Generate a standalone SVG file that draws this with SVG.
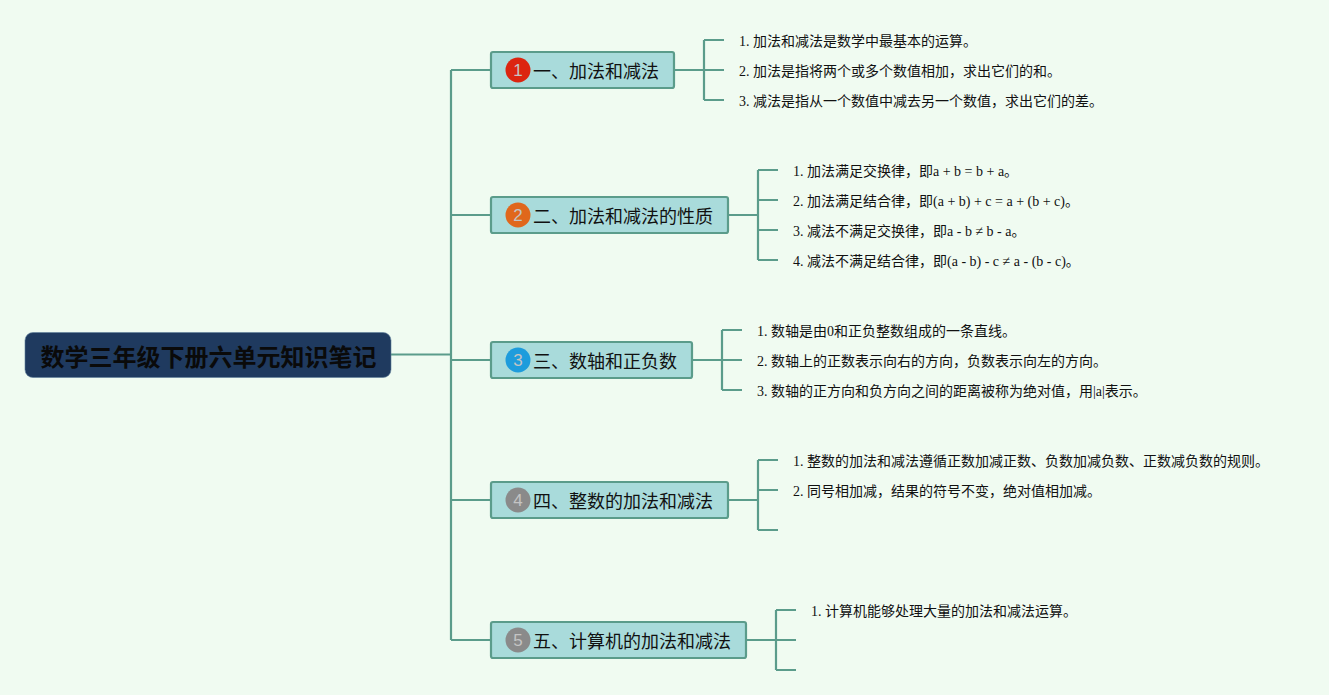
<svg xmlns="http://www.w3.org/2000/svg" width="1329" height="695" viewBox="0 0 1329 695">
<style>
.c{fill:none;stroke:#5b9c8b;stroke-width:2.200}
.t{fill:#a9dbdb;stroke:#5b9c8b;stroke-width:2.200}
.tt{font-family:"Liberation Serif","Noto Sans CJK SC",serif;font-size:18px;fill:#111}
.s{font-family:"Liberation Serif","Noto Sans CJK SC",serif;font-size:14px;fill:#111}
.n{font-family:"Liberation Sans",sans-serif;font-size:17px;fill:#c4c4c4;text-anchor:middle}
</style>
<rect width="1329" height="695" fill="#f0fbf1"/>
<g id="connectors" class="c">
<path d="M391 354.500H451M451 70V640M451 70H491M451 215H491M451 360H491M451 500H491M451 640H491"/>
<path d="M675 70H704M704 40V100M704 40H724M704 70H724M704 100H724"/>
<path d="M729 215H758M758 170V260M758 170H778M758 200H778M758 230H778M758 260H778"/>
<path d="M693 360H722M722 330V390M722 330H742M722 360H742M722 390H742"/>
<path d="M729 500H758M758 460V530M758 460H778M758 490H778M758 530H778"/>
<path d="M747 640H776M776 610V670M776 610H796M776 640H796M776 670H796"/>
</g>
<g id="root">
<rect x="25" y="332.500" width="366" height="45" rx="8" fill="#1f3a5f" stroke="#5f7f9c" stroke-width="0.600"/>
<text x="208.500" y="366" text-anchor="middle" font-family="Liberation Serif,'Noto Sans CJK SC',sans-serif" font-size="24" font-weight="700" fill="#0a0a0a">数学三年级下册六单元知识笔记</text>
</g>
<g id="topic1">
<rect class="t" x="491" y="52" width="183" height="36" rx="2"/>
<circle cx="518" cy="70" r="12.500" fill="#dc2510"/>
<text class="n" x="518" y="76">1</text>
<text class="tt" x="533" y="78">一、加法和减法</text>
</g>
<g id="topic2">
<rect class="t" x="491" y="197" width="237" height="36" rx="2"/>
<circle cx="518" cy="215" r="12.500" fill="#e0671c"/>
<text class="n" x="518" y="221">2</text>
<text class="tt" x="533" y="223">二、加法和减法的性质</text>
</g>
<g id="topic3">
<rect class="t" x="491" y="342" width="201" height="36" rx="2"/>
<circle cx="518" cy="360" r="12.500" fill="#1e9cdc"/>
<text class="n" x="518" y="366">3</text>
<text class="tt" x="533" y="368">三、数轴和正负数</text>
</g>
<g id="topic4">
<rect class="t" x="491" y="482" width="237" height="36" rx="2"/>
<circle cx="518" cy="500" r="12.500" fill="#8a8a8a"/>
<text class="n" x="518" y="506">4</text>
<text class="tt" x="533" y="508">四、整数的加法和减法</text>
</g>
<g id="topic5">
<rect class="t" x="491" y="622" width="255" height="36" rx="2"/>
<circle cx="518" cy="640" r="12.500" fill="#8a8a8a"/>
<text class="n" x="518" y="646">5</text>
<text class="tt" x="533" y="648">五、计算机的加法和减法</text>
</g>
<g id="items1">
<text class="s" x="739" y="46">1. 加法和减法是数学中最基本的运算。</text>
<text class="s" x="739" y="76">2. 加法是指将两个或多个数值相加，求出它们的和。</text>
<text class="s" x="739" y="106">3. 减法是指从一个数值中减去另一个数值，求出它们的差。</text>
</g>
<g id="items2">
<text class="s" x="793" y="176">1. 加法满足交换律，即a + b = b + a。</text>
<text class="s" x="793" y="206">2. 加法满足结合律，即(a + b) + c = a + (b + c)。</text>
<text class="s" x="793" y="236">3. 减法不满足交换律，即a - b ≠ b - a。</text>
<text class="s" x="793" y="266">4. 减法不满足结合律，即(a - b) - c ≠ a - (b - c)。</text>
</g>
<g id="items3">
<text class="s" x="757" y="336">1. 数轴是由0和正负整数组成的一条直线。</text>
<text class="s" x="757" y="366">2. 数轴上的正数表示向右的方向，负数表示向左的方向。</text>
<text class="s" x="757" y="396">3. 数轴的正方向和负方向之间的距离被称为绝对值，用|a|表示。</text>
</g>
<g id="items4">
<text class="s" x="793" y="466">1. 整数的加法和减法遵循正数加减正数、负数加减负数、正数减负数的规则。</text>
<text class="s" x="793" y="496">2. 同号相加减，结果的符号不变，绝对值相加减。</text>
</g>
<g id="items5">
<text class="s" x="811" y="616">1. 计算机能够处理大量的加法和减法运算。</text>
</g>
</svg>
